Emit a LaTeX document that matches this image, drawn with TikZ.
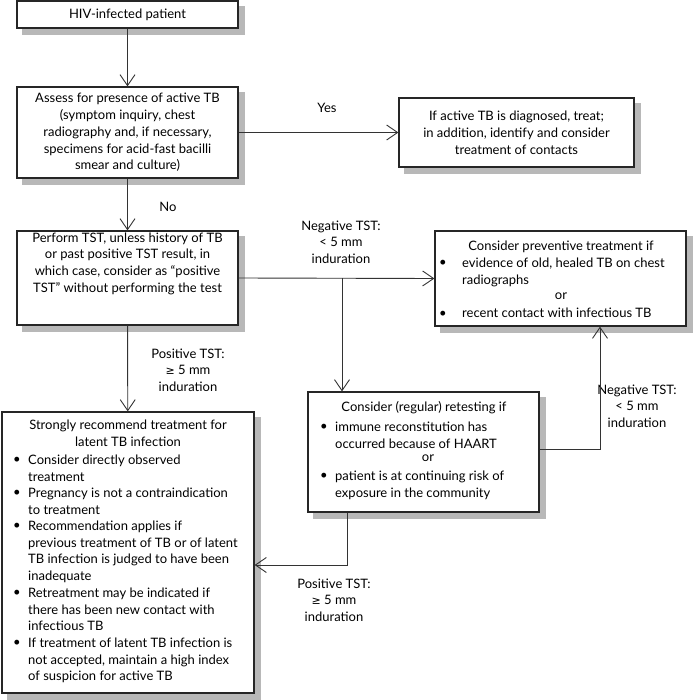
\documentclass[tikz,border=0pt]{standalone}
\usepackage{fontspec}
\setmainfont{Lato}
\newfontfamily\symfont{DejaVu Sans}
\usetikzlibrary{arrows.meta}
\newcommand\geqs{{\symfont\fontsize{11}{13}\selectfont ≥}}
\definecolor{shade}{gray}{0.72}
\tikzset{
  box/.style={draw=black!85, line width=1.2pt, fill=white, inner sep=0pt},
  shadowline/.style={draw=shade, line width=6pt},
  conn/.style={draw=black!80, line width=0.9pt},
  arr/.style={conn, -{Straight Barb[length=11pt,width=15pt,line width=0.9pt]}},
  lbl/.style={align=center, inner sep=0pt, font=\fontsize{13}{16.5}\selectfont},
  item/.style={align=left, anchor=north west, inner sep=0pt},
  bull/.style={anchor=center, inner sep=0pt},
  title/.style={align=center, inner sep=0pt},
}
\begin{document}
\begin{tikzpicture}[x=1pt,y=-1pt, every node/.append style={font=\fontsize{13}{16.8}\selectfont}]
\useasboundingbox (0,0) rectangle (700,700);
% boxes
\node[box, minimum width=221pt, minimum height=27pt, align=center] (b1) at (127.5,14.5) {HIV-infected patient};
\node[box, minimum width=221pt, minimum height=91pt, align=center] (b2) at (127.5,132.5)
  {Assess for presence of active TB\\(symptom inquiry, chest\\radiography and, if necessary,\\specimens for acid-fast bacilli\\smear and culture)};
\node[box, minimum width=235pt, minimum height=69pt, align=center] (b3) at (516.5,132.5)
  {If active TB is diagnosed, treat;\\in addition, identify and consider\\treatment of contacts};
\node[box, minimum width=221pt, minimum height=94pt, align=center] (b4) at (127.5,278)
  {Perform TST, unless history of TB\\or past positive TST result, in\\which case, consider as ``positive\\TST'' without performing the test\\[14pt]};
\node[box, minimum width=251pt, minimum height=95pt] (b5) at (560.5,278.5) {};
\node[box, minimum width=231pt, minimum height=120pt] (b6) at (423.5,452) {};
\node[box, minimum width=252pt, minimum height=281pt] (b7) at (128,552.5) {};
% shadows
\foreach \bx in {b1,b2,b3,b4,b5,b6,b7}
  \draw[shadowline] ([shift={(3.6,6)}]\bx.north east) -- ([shift={(3.6,3.6)}]\bx.south east) -- ([shift={(6,3.6)}]\bx.south west);
% box 5 text
\node[title] (b5t) at (561,246.5) {Consider preventive treatment if};
\node[item] (b5i1) at (462,257.5) {evidence of old, healed TB on chest\\radiographs};
\node[title] (b5or) at (561,296.5) {or};
\node[item] (b5i2) at (462,308) {recent contact with infectious TB};
\foreach \it in {b5i1,b5i2} \node[bull] at ([shift={(-19,6.2)}]\it.north west) {\textbullet};
% box 6 text
\node[title] (b6t) at (424,408) {Consider (regular) retesting if};
\node[item] (b6i1) at (335,421.5) {immune reconstitution has\\occurred because of HAART};
\node[title] (b6or) at (428,458.5) {or};
\node[item] (b6i2) at (335,470.5) {patient is at continuing risk of\\exposure in the community};
\foreach \it in {b6i1,b6i2} \node[bull] at ([shift={(-11,6.2)}]\it.north west) {\textbullet};
% box 7 text
\node[title] (b7t) at (128,433.5) {Strongly recommend treatment for\\latent TB infection};
\node[item] (b7i1) at (28,454.5) {Consider directly observed\\treatment};
\node[item] (b7i2) at (28,487.5) {Pregnancy is not a contraindication\\to treatment};
\node[item] (b7i3) at (28,520.5) {Recommendation applies if\\previous treatment of TB or of latent\\TB infection is judged to have been\\inadequate};
\node[item] (b7i4) at (28,587.5) {Retreatment may be indicated if\\there has been new contact with\\infectious TB};
\node[item] (b7i5) at (28,637.5) {If treatment of latent TB infection is\\not accepted, maintain a high index\\of suspicion for active TB};
\foreach \it in {b7i1,b7i2,b7i3,b7i4,b7i5} \node[bull] at ([shift={(-11,6.2)}]\it.north west) {\textbullet};
% labels
\node[lbl] (lyes) at (327,108) {Yes};
\node[lbl] (lno) at (168,207) {No};
\node[lbl] (lneg1) at (341,242) {Negative TST:\\< 5 mm\\induration};
\node[lbl] (lpos1) at (188,370) {Positive TST:\\\geqs\ 5 mm\\induration};
\node[lbl] (lneg2) at (637,406) {Negative TST:\\< 5 mm\\induration};
\node[lbl] (lpos2) at (334,600) {Positive TST:\\\geqs\ 5 mm\\induration};
% connectors
\coordinate (j1) at (342,278);
\coordinate (j2) at (600,449);
\coordinate (j3) at (347,565);
\draw[arr] (b1) -- (b2);
\draw[arr] (b2.east) -- (b3.west);
\draw[arr] (b2) -- (b4);
\draw[arr] (b4.east) -- (b5.west);
\draw[arr] (j1) -- (j1 |- b6.north);
\draw[arr] (b6.east |- j2) -- (j2) -- (j2 |- b5.south);
\draw[arr] (b4) -- (b7);
\draw[arr] (j3 |- b6.south) -- (j3) -- (j3 -| b7.east);
\end{tikzpicture}
\end{document}
